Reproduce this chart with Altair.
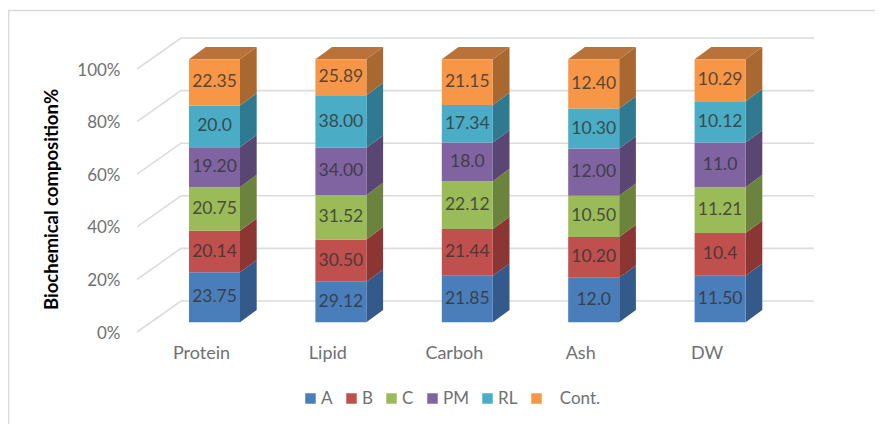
import altair as alt
import pandas as pd

categories = ["Protein", "Lipid", "Carboh", "Ash", "DW"]
series = ["A", "B", "C", "PM", "RL", "\u200b\u2003Cont."]

# Share of each stack (percent of bar height)
share_A = [18.99, 15.44, 17.72, 16.96, 17.72]
share_B = [15.82, 16.08, 17.72, 15.44, 16.20]
share_C = [16.58, 16.84, 18.23, 15.70, 17.47]
share_PM = [15.19, 17.97, 14.68, 17.97, 16.96]
share_RL = [15.82, 20.00, 14.30, 15.19, 15.70]
share_Cont = [17.60, 13.67, 17.35, 18.74, 15.95]

# Printed data labels
label_A = ["23.75", "29.12", "21.85", "12.0", "11.50"]
label_B = ["20.14", "30.50", "21.44", "10.20", "10.4"]
label_C = ["20.75", "31.52", "22.12", "10.50", "11.21"]
label_PM = ["19.20", "34.00", "18.0", "12.00", "11.0"]
label_RL = ["20.0", "38.00", "17.34", "10.30", "10.12"]
label_Cont = ["22.35", "25.89", "21.15", "12.40", "10.29"]

front_colors = ["#4a7ebb", "#c0504d", "#9bbb59", "#8064a2", "#4bacc6", "#f79646"]
side_colors = ["#335a8a", "#8c3634", "#6b833c", "#5a4673", "#2f7a90", "#a9682f"]
top_color = "#b9733a"
grid_color = "#dcdcdc"
text_color = "#707070"
font = "Lato"

shares = [share_A, share_B, share_C, share_PM, share_RL, share_Cont]
labels = [label_A, label_B, label_C, label_PM, label_RL, label_Cont]

# Scale: px per unit
PX_X = 126.4
PX_Y = 2.63
ORIGIN_X, ORIGIN_Y = 10, 11
W, H = 865, 413
X0, Y0 = 201, 332  # abs px of category 0 label / 0% on front wall


def ix(px):
    return (px - X0) / PX_X


def iy(px):
    return (Y0 - px) / PX_Y


BAR_LEFT = ix(189)
BAR_W = 51 / PX_X
BAR_DX = 16.7 / PX_X
BAR_DY = 12.3 / PX_Y
BAR_LIFT = (332 - 322.3) / PX_Y
WALL_DX = 44 / PX_X
WALL_DY = 31 / PX_Y

front, side, top, text = [], [], [], []
for c, cat in enumerate(categories):
    base = 0.0
    xl = BAR_LEFT + c
    xr = xl + BAR_W
    for s, name in enumerate(series):
        v0 = base + BAR_LIFT
        v1 = v0 + shares[s][c]
        base += shares[s][c]
        front.append(dict(cat=cat, series=name, x=xl, x2=xr, y=v0, y2=v1))
        text.append(dict(x=(xl + xr) / 2, y=(v0 + v1) / 2, label=labels[s][c]))
        key = f"{cat}-{s}"
        side.append(dict(key=key, fill=side_colors[s], x=xr, y=v0, y2=v1))
        side.append(dict(key=key, fill=side_colors[s], x=xr + BAR_DX, y=v0 + BAR_DY, y2=v1 + BAR_DY))
        if s == len(series) - 1:
            top.append(dict(key=cat, y=v1, x=xl, x2=xr))
            top.append(dict(key=cat, y=v1 + BAR_DY, x=xl + BAR_DX, x2=xr + BAR_DX))

grid = []
for pct in [0, 20, 40, 60, 80, 100]:
    grid.append(dict(k=pct, o=0, x=ix(137), y=pct))
    grid.append(dict(k=pct, o=1, x=ix(137) + WALL_DX, y=pct + WALL_DY))
    grid.append(dict(k=pct, o=2, x=ix(814), y=pct + WALL_DY))

xs = alt.Scale(domain=[ix(ORIGIN_X), ix(ORIGIN_X + W)], nice=False, zero=False)
ys = alt.Scale(domain=[iy(ORIGIN_Y + H), iy(ORIGIN_Y)], nice=False, zero=False)

cat_expr = "[" + ",".join(f"'{c}'" for c in categories) + "][datum.value]"
x_axis = alt.Axis(
    values=list(range(len(categories))), labelExpr=cat_expr, title=None, domain=False, ticks=False,
    grid=False, orient="bottom", offset=-(ORIGIN_Y + H - 353),
    labelFont=font, labelFontSize=18, labelColor=text_color, labelPadding=0, labelBaseline="middle",
    labelFlush=False, labelOverlap=False,
)
y_axis = alt.Axis(
    values=[0, 20, 40, 60, 80, 100], labelExpr="datum.value + '%'", title="Biochemical composition%",
    domain=False, ticks=False, grid=False, orient="left", offset=-(120 - ORIGIN_X),
    labelFont=font, labelFontSize=17, labelColor=text_color, labelPadding=0, labelOffset=1,
    titleFont=font, titleFontSize=18.5, titleFontWeight="bold", titleColor="#000000",
    titleX=61 - 120, titleY=199 - ORIGIN_Y,
)

X = alt.X("x:Q", scale=xs, axis=x_axis)
Y = alt.Y("y:Q", scale=ys, axis=y_axis)

frame = alt.Chart(pd.DataFrame(dict(x=[ix(8.5), ix(8.5), ix(883)], y=[iy(424), iy(10.5), iy(10.5)], o=[0, 1, 2]))).mark_line(
    color="#d9d9d9", strokeWidth=1.6
).encode(x=X, y=Y, order="o:O")

grid_lines = alt.Chart(pd.DataFrame(grid)).mark_line(color=grid_color, strokeWidth=1.6).encode(
    x=X, y=Y, detail="k:N", order="o:O"
)

side_faces = alt.Chart(pd.DataFrame(side)).mark_area(strokeWidth=0).encode(
    x=X, y=Y, y2="y2:Q", detail="key:N", fill=alt.Fill("fill:N", scale=None)
)

top_faces = alt.Chart(pd.DataFrame(top)).mark_area(orient="horizontal", color=top_color).encode(
    y=Y, x=X, x2="x2:Q", detail="key:N"
)

front_faces = alt.Chart(pd.DataFrame(front)).mark_rect().encode(
    x=X, x2="x2:Q", y=Y, y2="y2:Q",
    color=alt.Color(
        "series:N",
        scale=alt.Scale(domain=series, range=front_colors),
        legend=alt.Legend(
            orient="none", legendX=305 - ORIGIN_X - 3, legendY=390 - ORIGIN_Y, direction="horizontal",
            title=None, symbolType="square", symbolSize=110, symbolStrokeWidth=0, labelFont=font,
            labelFontSize=17, labelColor=text_color, labelOffset=2, columnPadding=10, gridAlign="none",
            columns=6,
        ),
    ),
)

value_text = alt.Chart(pd.DataFrame(text)).mark_text(
    font=font, fontSize=17.5, color="#333333", opacity=0.8, baseline="middle", align="center"
).encode(x=X, y=Y, text="label:N")

chart = alt.layer(frame, grid_lines, side_faces, top_faces, front_faces, value_text).properties(
    width=W, height=H, autosize="none",
    padding={"left": ORIGIN_X - 8, "top": ORIGIN_Y - 8, "right": 0, "bottom": 0},
    background="#ffffff",
).configure_view(stroke=None)

chart.save("out.html", embed_options={"renderer": "svg", "actions": False})
